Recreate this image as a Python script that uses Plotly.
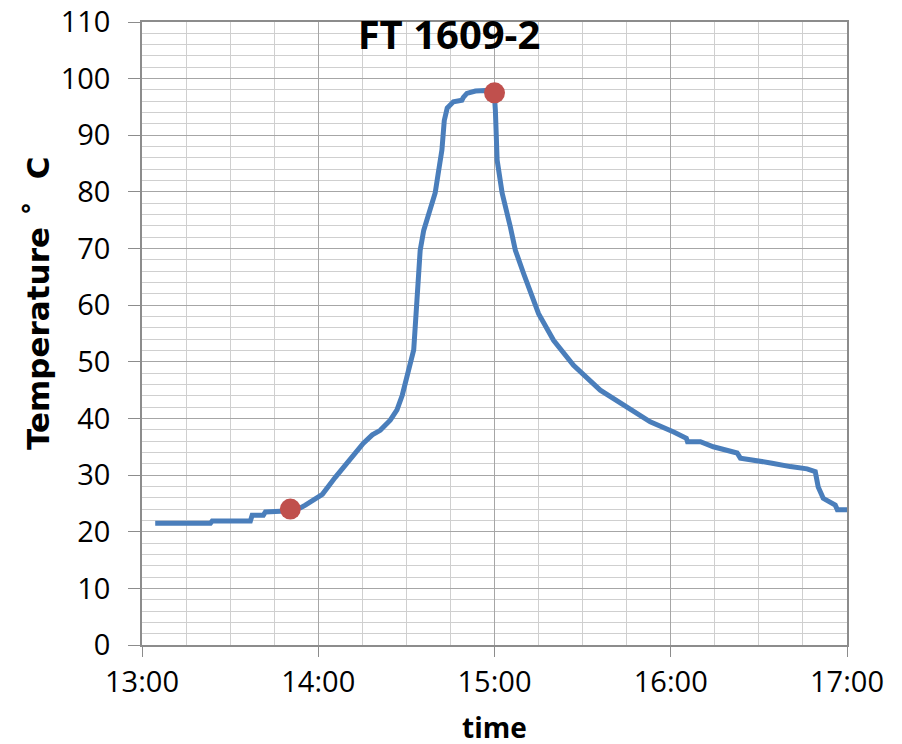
import plotly.graph_objects as go

DAY = "2016-09-16 "
times = ["13:04:30", "13:23:18", "13:23:54", "13:36:54", "13:37:30", "13:41:18", "13:42:00",
         "13:47:06", "13:50:30", "13:53:54", "13:55:36", "13:57:18", "13:59:36", "14:01:24",
         "14:05:48", "14:10:54", "14:15:18", "14:18:24", "14:21:06", "14:24:30", "14:26:48",
         "14:28:36", "14:30:12", "14:31:18", "14:32:30", "14:33:36", "14:34:42", "14:35:54",
         "14:38:06", "14:39:48", "14:41:00", "14:42:06", "14:42:54", "14:43:54", "14:46:00",
         "14:48:54", "14:49:24", "14:50:36", "14:53:30", "14:56:54", "14:59:54", "15:00:18",
         "15:00:54", "15:02:36", "15:05:24", "15:07:06", "15:09:54", "15:15:00", "15:20:06",
         "15:26:54", "15:36:00", "15:45:06", "15:53:00", "16:01:00", "16:05:18", "16:05:42",
         "16:10:06", "16:14:30", "16:16:54", "16:22:36", "16:23:42", "16:29:48", "16:34:30",
         "16:40:42", "16:46:24", "16:49:12", "16:50:12", "16:51:54", "16:56:00", "16:56:42",
         "17:00:00"]
temps = [21.5, 21.5, 21.9, 21.9, 22.9, 22.9, 23.5,
         23.6, 23.9, 24.2, 24.7, 25.2, 26.1, 26.6,
         29.6, 33.0, 35.6, 37.1, 37.9, 39.7, 41.5,
         44.1, 47.3, 49.4, 52.1, 60.9, 69.7, 73.2,
         76.8, 79.8, 83.8, 87.4, 92.6, 94.8, 95.9,
         96.2, 96.7, 97.4, 97.8, 97.9, 97.6, 94.4,
         85.6, 79.8, 73.8, 69.7, 65.6, 58.5, 53.8,
         49.4, 45.0, 42.1, 39.4, 37.6, 36.5, 35.9,
         35.9, 35.0, 34.7, 33.9, 33.0, 32.6, 32.1,
         31.5, 31.1, 30.6, 27.9, 25.9, 24.7, 23.9,
         23.9]
marker_times = ["13:50:30", "15:00:00"]
marker_temps = [24.0, 97.5]
x_ticks = ["13:00", "14:00", "15:00", "16:00", "17:00"]

FONT = "Open Sans"
W, H = 894, 736   # page body adds an 8px offset in the browser

fig = go.Figure()
fig.add_trace(go.Scatter(
    x=[DAY + t for t in times], y=temps, mode="lines",
    line=dict(color="#4A7EBB", width=5), showlegend=False))
fig.add_trace(go.Scatter(
    x=[DAY + t for t in marker_times], y=marker_temps, mode="markers",
    marker=dict(color="#C0504D", size=21, line=dict(width=0)), showlegend=False))

fig.update_layout(
    width=W, height=H,
    margin=dict(l=134, r=55, t=14, b=99, autoexpand=False),
    paper_bgcolor="white", plot_bgcolor="white",
    font=dict(family=FONT, color="black"),
    title=dict(text="<b>FT 1609-2</b>", x=441 / W, xref="container", xanchor="center",
               y=1 - 27 / H, yref="container", yanchor="middle",
               font=dict(family=FONT, size=40, color="black")),
    annotations=[
        dict(text="<b>time</b>", xref="paper", yref="paper", x=0.5, y=-82 / 623,
             xanchor="center", yanchor="middle", showarrow=False,
             font=dict(size=28, family=FONT, color="black")),
        dict(text="<b>Temperature ˚&nbsp;&nbsp;C</b>", xref="paper", yref="paper",
             x=-104 / 705, y=(645 - 303) / 623, textangle=-90,
             xanchor="center", yanchor="middle", showarrow=False,
             font=dict(size=31, family="DejaVu Sans", color="black")),
    ],
)
fig.update_xaxes(
    type="date", automargin=False,
    range=[DAY + x_ticks[0], DAY + x_ticks[-1]],
    tickvals=[DAY + t for t in x_ticks], ticktext=x_ticks,
    tickfont=dict(size=29, family=FONT),
    ticks="outside", ticklen=10, tickcolor="#8c8c8c", tickwidth=1,
    ticklabeloverflow="allow",
    showgrid=True, gridcolor="#a6a6a6", gridwidth=1,
    minor=dict(dtick=15 * 60 * 1000, showgrid=True, gridcolor="#cfcfcf", gridwidth=1,
               ticks=""),
    showline=True, linecolor="#8c8c8c", linewidth=1.5, mirror=True,
    zeroline=False,
)
fig.update_yaxes(
    automargin=False,
    range=[0, 110], tick0=0, dtick=10,
    tickfont=dict(size=29, family=FONT),
    ticks="outside", ticklen=12, tickcolor="#8c8c8c", tickwidth=1,
    ticklabelstandoff=12, ticklabeloverflow="allow",
    showgrid=True, gridcolor="#a6a6a6", gridwidth=1,
    minor=dict(dtick=2, showgrid=True, gridcolor="#cfcfcf", gridwidth=1, ticks=""),
    showline=True, linecolor="#8c8c8c", linewidth=1.5, mirror=True,
    zeroline=False,
)

fig.write_html("out.html")
